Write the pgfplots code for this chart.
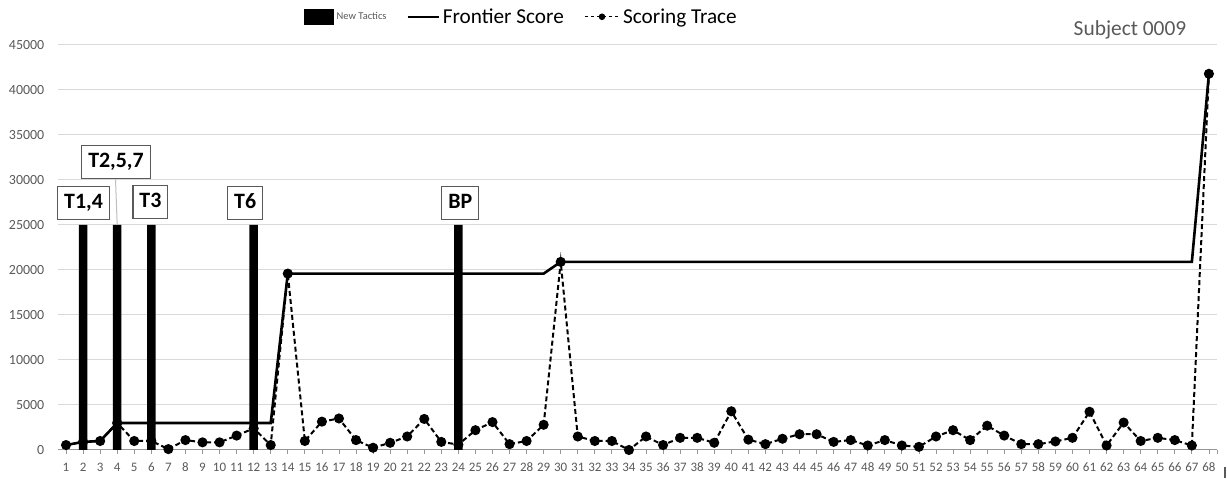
\documentclass[border=0pt]{standalone}
\usepackage{pgfplots}
\pgfplotsset{compat=1.18}
\usepackage{fontspec}
\setmainfont{Carlito}
\definecolor{txtgray}{RGB}{89,89,89}
\definecolor{gridgray}{RGB}{217,217,217}
\definecolor{axgray}{RGB}{150,150,150}
\tikzset{lbl/.style={draw=txtgray, line width=1.1bp, fill=white,
    font=\bfseries\fontsize{22}{26}\selectfont,
    inner xsep=6.5bp, inner ysep=8bp, text height=14bp, text depth=3bp}}

\pgfplotstableread{
x y
1 550
2 900
3 1000
4 3000
5 1000
6 1000
7 100
8 1100
9 850
10 850
11 1600
12 2400
13 550
14 19600
15 1000
16 3150
17 3500
18 1100
19 250
20 800
21 1500
22 3450
23 900
24 600
25 2200
26 3100
27 650
28 1000
29 2800
30 20900
31 1500
32 1000
33 1000
34 0
35 1500
36 550
37 1350
38 1350
39 800
40 4300
41 1150
42 650
43 1250
44 1750
45 1750
46 900
47 1100
48 500
49 1100
50 500
51 350
52 1500
53 2200
54 1100
55 2700
56 1600
57 650
58 650
59 950
60 1350
61 4250
62 500
63 3050
64 1000
65 1350
66 1100
67 500
68 41800
}\trace

\pgfplotstableread{
x y
1 550
2 900
3 1000
4 3000
13 3000
14 19600
29 19600
30 20900
67 20900
68 41800
}\frontier

\pgfplotstableread{
x y
2 25000
4 25000
6 25000
12 25000
24 25000
}\tactics

\begin{document}
\begin{tikzpicture}[x=1bp,y=1bp]
\useasboundingbox (0,0) rectangle (1227,479);
\begin{axis}[
  at={(57.5bp,29bp)}, anchor=south west,
  scale only axis, width=1160bp, height=405bp,
  xmin=0.5, xmax=68.5, ymin=0, ymax=45000,
  clip=false,
  axis x line*=bottom, axis y line*=left,
  y axis line style={draw=none},
  x axis line style={axgray, line width=1bp},
  xtick={1,...,68},
  extra x ticks={68.5}, extra x tick labels={},
  ytick={0,5000,...,45000},
  ymajorgrids, grid style={gridgray, line width=1bp},
  tick align=outside,
  x tick style={axgray, line width=0.8bp},
  major tick length=4bp,
  y tick style={draw=none},
  scaled y ticks=false,
  /pgf/number format/assume math mode=true,
  /pgf/number format/1000 sep={},
  xticklabel style={font=\fontsize{13}{15}\selectfont, text=txtgray, inner sep=0pt, anchor=north, yshift=-8.5bp},
  yticklabel style={font=\fontsize{14}{16}\selectfont, text=txtgray, inner sep=0pt, anchor=east, xshift=-9bp},
  legend columns=3,
  legend cell align=left,
  legend style={draw=none, fill=none, at={(0.2095,1.1)}, anchor=north west,
    nodes={inner xsep=3bp, inner ysep=2bp},
    /tikz/every even column/.append style={column sep=17bp}},
]
\addplot[ybar, bar width=8.5bp, fill=black, draw=none,
  legend image code/.code={\fill[black] (0bp,-8bp) rectangle (30bp,8bp);}]
  table[x=x,y=y] {\tactics};
\addlegendentry{\fontsize{10.5}{12}\selectfont\textcolor{txtgray}{New Tactics}}

\addplot[black, line width=2.6bp, no markers,
  legend image code/.code={\draw[black, line width=2.4bp] (0bp,0bp) -- (31bp,0bp);}]
  table[x=x,y=y] {\frontier};
\addlegendentry{\fontsize{21.3}{24}\selectfont Frontier Score}

\addplot[black, line width=2bp, dash pattern=on 5bp off 3bp,
  mark=*, mark size=4bp, mark options={solid},
  legend image code/.code={\draw[black, line width=1.3bp, dash pattern=on 3.5bp off 2.5bp, mark=*, mark size=2.6bp, mark options={solid}, mark repeat=2, mark phase=2] plot coordinates {(0bp,0bp) (17.5bp,0bp) (35bp,0bp)};}]
  table[x=x,y=y] {\trace};
\addlegendentry{\fontsize{21.3}{24}\selectfont Scoring Trace}

\draw[gridgray!70!gray, line width=1bp] (axis cs:3.9,30150) -- (axis cs:4,25000);
\node[lbl] at (axis cs:2.03,27400) {T1,4};
\node[lbl] at (axis cs:3.93,32000) {T2,5,7};
\node[lbl] at (axis cs:5.95,27600) {T3};
\node[lbl] at (axis cs:11.5,27400) {T6};
\node[lbl] at (axis cs:24.12,27400) {BP};

\node[font=\fontsize{21.5}{25}\selectfont, text=txtgray] at (axis description cs:0.9246,1.037) {Subject 0009};
\end{axis}
\draw[txtgray, line width=2bp] (1225,1) -- (1225,12);
\end{tikzpicture}
\end{document}
